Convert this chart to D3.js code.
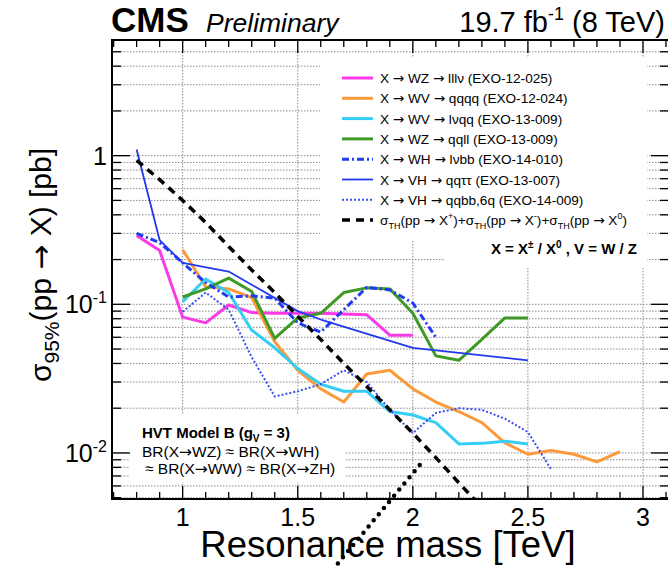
<!DOCTYPE html>
<html>
<head>
<meta charset="utf-8">
<script src="https://cdn.jsdelivr.net/npm/d3@7"></script>
<style>
    body { margin: 0; background: #fff; }
    svg { display: block; font-family: "Liberation Sans", Arial, Helvetica, sans-serif; }
</style>
</head>
<body>
<div id="chart"></div>
<script>
// resonance mass [TeV] and 95% CL upper limits [pb]
const massLllv = [0.8, 0.9, 1.0, 1.1, 1.2, 1.3, 1.4, 1.5, 1.6, 1.7, 1.8, 1.9, 2.0];
const limitLllv = [0.29, 0.23, 0.082, 0.075, 0.099, 0.088, 0.087, 0.087, 0.087, 0.086, 0.085, 0.062, 0.062];

const massQqqq = [1.0, 1.1, 1.2, 1.3, 1.4, 1.5, 1.6, 1.7, 1.8, 1.9, 2.0, 2.1, 2.2, 2.3, 2.4, 2.5, 2.6, 2.7, 2.8, 2.9];
const limitQqqq = [0.233, 0.131, 0.127, 0.111, 0.056, 0.036, 0.027, 0.022, 0.034, 0.036, 0.027, 0.022, 0.019, 0.016, 0.0117, 0.0098, 0.0104, 0.0098, 0.0087, 0.0102];

const massLvqq = [1.0, 1.1, 1.2, 1.3, 1.4, 1.5, 1.6, 1.7, 1.8, 1.9, 2.0, 2.1, 2.2, 2.3, 2.4, 2.5];
const limitLvqq = [0.104, 0.148, 0.12, 0.067, 0.051, 0.037, 0.029, 0.026, 0.026, 0.019, 0.018, 0.016, 0.0115, 0.0116, 0.012, 0.0115];

const massQqll = [1.0, 1.1, 1.2, 1.3, 1.4, 1.5, 1.6, 1.7, 1.8, 1.9, 2.0, 2.1, 2.2, 2.3, 2.4, 2.5];
const limitQqll = [0.112, 0.127, 0.15, 0.122, 0.059, 0.081, 0.087, 0.12, 0.129, 0.127, 0.087, 0.045, 0.042, 0.058, 0.081, 0.081];

const massLvbb = [0.8, 0.9, 1.0, 1.1, 1.2, 1.3, 1.4, 1.5, 1.6, 1.7, 1.8, 1.9, 2.0, 2.1];
const limitLvbb = [0.30, 0.26, 0.19, 0.14, 0.112, 0.114, 0.11, 0.075, 0.065, 0.092, 0.13, 0.125, 0.102, 0.060];

const massQqtautau = [0.8, 0.9, 1.0, 1.2, 1.5, 1.6, 2.0, 2.5];
const limitQqtautau = [1.10, 0.27, 0.19, 0.166, 0.09, 0.079, 0.051, 0.042];

const massQqbb = [1.0, 1.1, 1.2, 1.3, 1.4, 1.5, 1.6, 1.7, 1.8, 1.9, 2.0, 2.1, 2.2, 2.3, 2.4, 2.5, 2.6];
const limitQqbb = [0.089, 0.12, 0.092, 0.044, 0.024, 0.026, 0.029, 0.036, 0.030, 0.0195, 0.0136, 0.0186, 0.020, 0.0195, 0.017, 0.0138, 0.0078];

// HVT model B theory cross section
const massTheory = [0.8, 0.9, 1.0, 1.1, 1.2, 1.3, 1.4, 1.5, 1.6, 1.7, 1.8, 1.9, 2.0, 2.1, 2.2, 2.3];
const sigmaTheory = [0.93, 0.69, 0.50, 0.355, 0.245, 0.17, 0.12, 0.083, 0.058, 0.040, 0.028, 0.0195, 0.0136, 0.0093, 0.0063, 0.0043];

// stray dotted curve that runs out of the frame
const massStray = [2.03, 1.66];
const sigmaStray = [0.0083, 0.0017];

const seriesNames = ["lllv", "qqqq", "lvqq", "qqll", "lvbb", "qqtautau", "qqbb", "theory"];

// legend text pieces: [text, "n" normal | "sub" | "sup"]
const legendLabels = [
    [["X → WZ → lllν (EXO-12-025)", "n"]],
    [["X → WV → qqqq (EXO-12-024)", "n"]],
    [["X → WV → lνqq (EXO-13-009)", "n"]],
    [["X → WZ → qqll (EXO-13-009)", "n"]],
    [["X → WH → lνbb (EXO-14-010)", "n"]],
    [["X → VH → qqττ (EXO-13-007)", "n"]],
    [["X → VH → qqbb,6q (EXO-14-009)", "n"]],
    [["σ", "n"], ["TH", "sub"], ["(pp → X", "n"], ["+", "sup"], [")+σ", "n"], ["TH", "sub"], ["(pp → X", "n"], ["-", "sup"], [")+σ", "n"], ["TH", "sub"], ["(pp → X", "n"], ["0", "sup"], [")", "n"]]
];

const xMajorTicks = [1, 1.5, 2, 2.5, 3];
const xTickLabels = ["1", "1.5", "2", "2.5", "3"];
const yMajorTicks = [1, 0.1, 0.01];
const yTickBase = ["1", "10", "10"];
const yTickExp = ["", "-1", "-2"];

// writes text pieces into a <text>, arrows drawn with a font that has a proper arrow glyph
function addPieces(el, pieces, smallSize, subDy, supDy) {
    let shift = 0;
    pieces.forEach(([txt, kind]) => {
        const target = kind === "sub" ? subDy : kind === "sup" ? supDy : 0;
        txt.split(/(→)/).filter(s => s.length).forEach((part, k) => {
            const ts = el.append("tspan").text(part);
            if (k === 0) ts.attr("dy", target - shift);
            if (kind !== "n") ts.style("font-size", smallSize);
            if (part === "→") ts.style("font-family", "'DejaVu Sans', sans-serif");
        });
        shift = target;
    });
}

class LimitPlot {
    constructor(parentElement) {
        this.parentElement = parentElement;
        this.initVis();
    }

    initVis() {
        let vis = this;

        vis.width = 668;
        vis.height = 567;
        vis.frame = { left: 112, right: 669, top: 40, bottom: 499 };

        vis.svg = d3.select("#" + vis.parentElement)
            .append("svg")
            .attr("width", vis.width)
            .attr("height", vis.height);

        vis.x = d3.scaleLinear().domain([0.693, 3.113]).range([vis.frame.left, vis.frame.right]);
        vis.y = d3.scaleLog().domain([0.0049, 6]).range([vis.frame.bottom, vis.frame.top]);

        vis.styles = {
            lllv: { color: "#fb3ae6", width: 3, dash: null },
            qqqq: { color: "#fb9a3a", width: 3, dash: null },
            lvqq: { color: "#35cdf3", width: 3, dash: null },
            qqll: { color: "#3f9a25", width: 3, dash: null },
            lvbb: { color: "#1f3cf2", width: 3, dash: "7,3,2,3" },
            qqtautau: { color: "#2238ee", width: 1.8, dash: null },
            qqbb: { color: "#3a4ff0", width: 2, dash: "2,2" },
            theory: { color: "#000", width: 3.5, dash: "8,6" }
        };

        vis.svg.append("clipPath").attr("id", "frame-clip")
            .append("rect")
            .attr("x", vis.frame.left).attr("y", vis.frame.top)
            .attr("width", vis.frame.right - vis.frame.left)
            .attr("height", vis.frame.bottom - vis.frame.top);

        vis.wrangleData();
    }

    wrangleData() {
        let vis = this;

        const pairs = (xs, ys) => xs.map((m, i) => ({ mass: m, sigma: ys[i] }));
        vis.displayData = {
            lllv: pairs(massLllv, limitLllv),
            qqqq: pairs(massQqqq, limitQqqq),
            lvqq: pairs(massLvqq, limitLvqq),
            qqll: pairs(massQqll, limitQqll),
            lvbb: pairs(massLvbb, limitLvbb),
            qqtautau: pairs(massQqtautau, limitQqtautau),
            qqbb: pairs(massQqbb, limitQqbb),
            theory: pairs(massTheory, sigmaTheory)
        };
        vis.strayData = pairs(massStray, sigmaStray);

        vis.updateVis();
    }

    updateVis() {
        let vis = this;
        const f = vis.frame;

        // grid
        const yAllTicks = vis.y.ticks();
        const grid = vis.svg.append("g")
            .attr("stroke", "#8a8a8a")
            .attr("stroke-width", 1)
            .attr("stroke-dasharray", "1.5,1.5");
        grid.selectAll(".hgrid")
            .data(yAllTicks)
            .enter()
            .append("line")
            .attr("x1", f.left).attr("x2", f.right)
            .attr("y1", d => vis.y(d)).attr("y2", d => vis.y(d));
        grid.selectAll(".vgrid")
            .data(xMajorTicks)
            .enter()
            .append("line")
            .attr("x1", d => vis.x(d)).attr("x2", d => vis.x(d))
            .attr("y1", f.top).attr("y2", f.bottom);

        // white panes of the legend and the model text cover the grid
        vis.svg.append("rect")
            .attr("x", 320).attr("y", 58).attr("width", 327).attr("height", 182)
            .attr("fill", "#fff");
        vis.svg.append("rect")
            .attr("x", 445).attr("y", 238).attr("width", 202).attr("height", 29)
            .attr("fill", "#fff");
        vis.svg.append("rect")
            .attr("x", 130).attr("y", 414).attr("width", 216).attr("height", 68)
            .attr("fill", "#fff");

        // curves
        const line = d3.line()
            .x(d => vis.x(d.mass))
            .y(d => vis.y(d.sigma));

        const curves = vis.svg.append("g").attr("clip-path", "url(#frame-clip)");
        curves.selectAll(".curve")
            .data(seriesNames)
            .enter()
            .append("path")
            .attr("class", "curve")
            .attr("d", d => line(vis.displayData[d]))
            .attr("fill", "none")
            .attr("stroke", d => vis.styles[d].color)
            .attr("stroke-width", d => vis.styles[d].width)
            .attr("stroke-dasharray", d => vis.styles[d].dash)
            .attr("stroke-linejoin", "round");

        // frame and ticks
        const axes = vis.svg.append("g").attr("stroke", "#000").attr("fill", "none");
        const xMinor = d3.range(7, 32).map(d => d / 10);
        [f.bottom, f.top].forEach(y0 => {
            const dir = y0 === f.bottom ? -1 : 1;
            axes.selectAll(null)
                .data(xMinor)
                .enter()
                .append("line")
                .attr("stroke-width", 1.3)
                .attr("x1", d => vis.x(d)).attr("x2", d => vis.x(d))
                .attr("y1", y0)
                .attr("y2", d => y0 + dir * (xMajorTicks.includes(d) ? 13 : 7));
        });
        [f.left, f.right].forEach(x0 => {
            const dir = x0 === f.left ? 1 : -1;
            axes.selectAll(null)
                .data(yAllTicks)
                .enter()
                .append("line")
                .attr("stroke-width", 1.3)
                .attr("y1", d => vis.y(d)).attr("y2", d => vis.y(d))
                .attr("x1", x0)
                .attr("x2", d => x0 + dir * (yMajorTicks.includes(d) ? 18 : 9));
        });
        axes.append("rect")
            .attr("x", f.left).attr("y", f.top)
            .attr("width", f.right - f.left).attr("height", f.bottom - f.top)
            .attr("stroke-width", 2);

        // tick labels
        vis.svg.selectAll(".xlabel")
            .data(xMajorTicks)
            .enter()
            .append("text")
            .attr("x", d => vis.x(d))
            .attr("y", 526)
            .attr("text-anchor", "middle")
            .style("font-size", "25px")
            .text((d, i) => xTickLabels[i]);

        const yLabels = vis.svg.selectAll(".ylabel")
            .data(yMajorTicks)
            .enter()
            .append("text")
            .attr("x", 107)
            .attr("y", d => vis.y(d) + 9)
            .attr("text-anchor", "end")
            .style("font-size", "25px");
        yLabels.append("tspan").text((d, i) => yTickBase[i]);
        yLabels.append("tspan")
            .attr("dy", -10)
            .style("font-size", "16px")
            .text((d, i) => yTickExp[i]);

        // axis titles
        vis.svg.append("text")
            .attr("x", 388).attr("y", 557)
            .attr("text-anchor", "middle")
            .style("font-size", "36.5px")
            .text("Resonance mass [TeV]");

        const yTitle = vis.svg.append("text")
            .attr("transform", "translate(51,265) rotate(-90)")
            .attr("text-anchor", "middle")
            .style("font-size", "30px");
        addPieces(yTitle, [["σ", "n"], ["95%", "sub"], ["(pp → X) [pb]", "n"]], "21px", 8, 0);

        // stray dotted curve, not clipped
        vis.svg.append("path")
            .attr("d", line(vis.strayData))
            .attr("fill", "none")
            .attr("stroke", "#000")
            .attr("stroke-width", 4.5)
            .attr("stroke-linecap", "round")
            .attr("stroke-dasharray", "0,8");

        // header
        vis.svg.append("text")
            .attr("x", 111).attr("y", 32)
            .style("font-size", "35px")
            .style("font-weight", "bold")
            .text("CMS");
        vis.svg.append("text")
            .attr("x", 206).attr("y", 32)
            .style("font-size", "26.5px")
            .style("font-style", "italic")
            .text("Preliminary");
        const lumi = vis.svg.append("text")
            .attr("x", 665).attr("y", 32)
            .attr("text-anchor", "end")
            .style("font-size", "29px");
        lumi.append("tspan").text("19.7 fb");
        lumi.append("tspan").attr("dy", -12).style("font-size", "18px").text("-1");
        lumi.append("tspan").attr("dy", 12).text(" (8 TeV)");

        // legend
        const legend = vis.svg.append("g").attr("class", "legend");
        const items = legend.selectAll(".legend-item")
            .data(seriesNames)
            .enter()
            .append("g")
            .attr("class", "legend-item")
            .attr("transform", (d, i) => `translate(342, ${78 + i * 20.3})`);

        items.append("line")
            .attr("x1", 0).attr("x2", 31)
            .attr("stroke", d => vis.styles[d].color)
            .attr("stroke-width", d => vis.styles[d].width)
            .attr("stroke-dasharray", d => vis.styles[d].dash);

        items.append("text")
            .attr("x", 38)
            .attr("y", 5)
            .style("font-size", "13.6px")
            .each(function (d, i) {
                addPieces(d3.select(this), legendLabels[i], "9px", 4, -6);
            });

        const vText = legend.append("text")
            .attr("x", 637).attr("y", 254)
            .attr("text-anchor", "end")
            .style("font-size", "15px")
            .style("font-weight", "bold");
        addPieces(vText, [["X = X", "n"], ["±", "sup"], [" / X", "n"], ["0", "sup"], [" , V = W / Z", "n"]], "10px", 0, -6);

        // model text
        const model = vis.svg.append("g");
        const t1 = model.append("text")
            .attr("x", 142).attr("y", 438)
            .style("font-size", "15px")
            .style("font-weight", "bold");
        addPieces(t1, [["HVT Model B (g", "n"], ["V", "sub"], [" = 3)", "n"]], "10px", 4, 0);
        const t2 = model.append("text")
            .attr("x", 142).attr("y", 457)
            .style("font-size", "15.5px");
        addPieces(t2, [["BR(X→WZ) ≈ BR(X→WH)", "n"]], null, 0, 0);
        const t3 = model.append("text")
            .attr("x", 145).attr("y", 474)
            .style("font-size", "15.5px");
        addPieces(t3, [["≈ BR(X→WW) ≈ BR(X→ZH)", "n"]], null, 0, 0);
    }
}

new LimitPlot("chart");
</script>
</body>
</html>
